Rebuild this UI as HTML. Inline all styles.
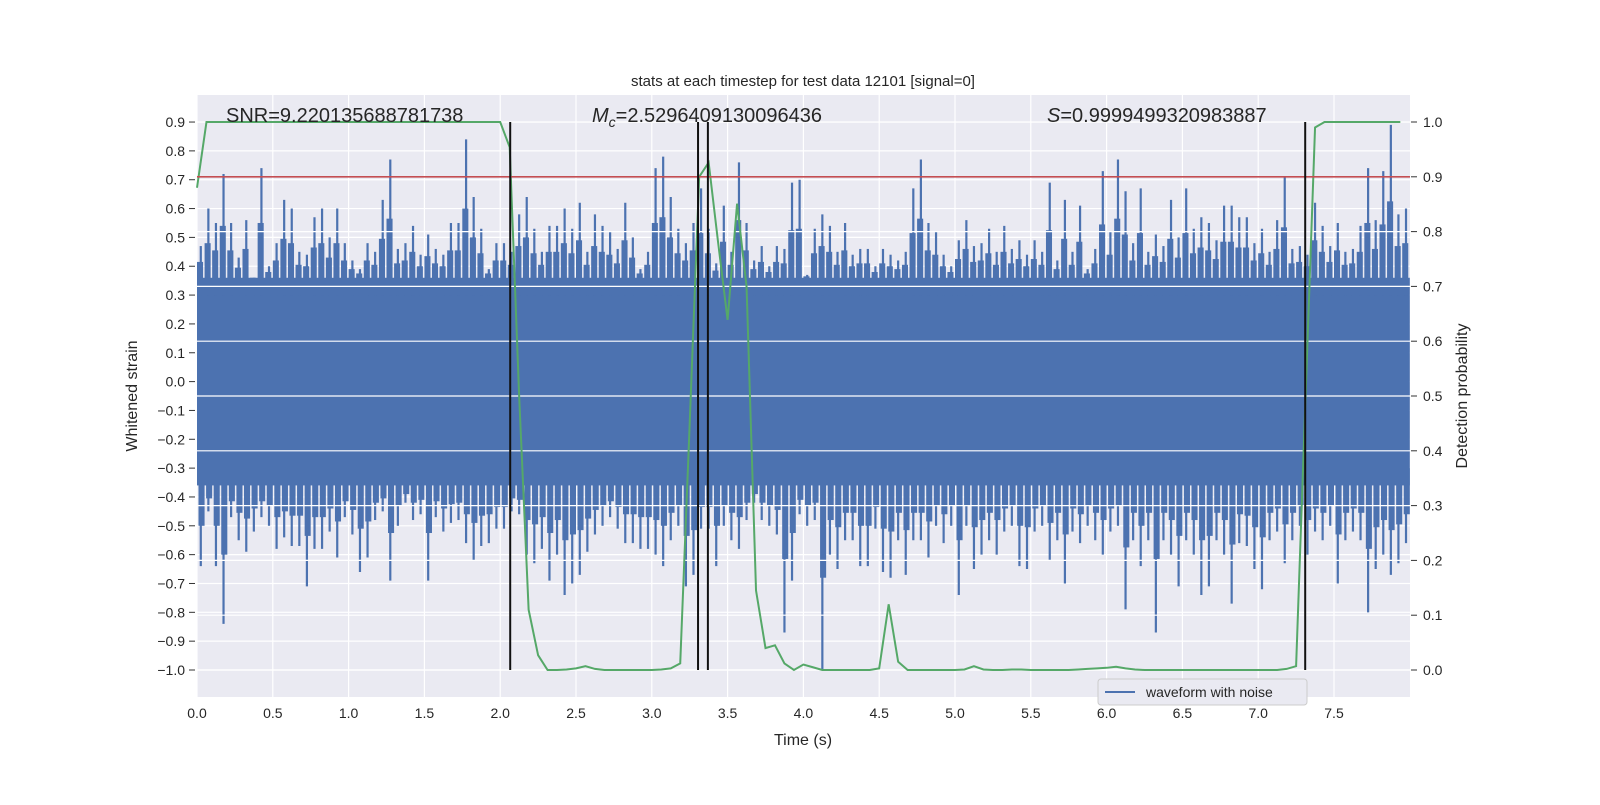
<!DOCTYPE html>
<html><head><meta charset="utf-8"><style>
html,body{margin:0;padding:0;background:#fff;}
svg text{font-family:"Liberation Sans","DejaVu Sans",sans-serif;fill:#262626;}
</style></head><body>
<svg id="chart" width="1600" height="800" viewBox="0 0 1600 800" xmlns="http://www.w3.org/2000/svg">
<rect x="197" y="95" width="1213" height="602" fill="#eaeaf2"/>
<g id="gridL"></g>
<g id="wave"></g>
<g id="gridR"></g>
<g id="marks"></g>
<g id="axes"></g>
<text x="803" y="86" font-size="15" text-anchor="middle">stats at each timestep for test data 12101 [signal=0]</text>
<text x="226" y="122" font-size="20">SNR=9.220135688781738</text>
<text x="592" y="122" font-size="20"><tspan font-style="italic">M</tspan><tspan font-style="italic" font-size="14" dy="5">c</tspan><tspan dy="-5">=2.5296409130096436</tspan></text>
<text x="1047" y="122" font-size="20"><tspan font-style="italic">S</tspan>=0.9999499320983887</text>
<text x="803" y="745" font-size="16" text-anchor="middle">Time (s)</text>
<text x="137" y="396" font-size="16" text-anchor="middle" transform="rotate(-90 137 396)">Whitened strain</text>
<text x="1467" y="396" font-size="16" text-anchor="middle" transform="rotate(-90 1467 396)">Detection probability</text>
<g>
<rect x="1098" y="679" width="209" height="26" rx="3" fill="#eaeaf2" stroke="#cccccc"/>
<line x1="1105" y1="692" x2="1135" y2="692" stroke="#4c72b0" stroke-width="2"/>
<text x="1146" y="697" font-size="14">waveform with noise</text>
</g>
</svg>
<script>
const xTicks=[0.0,0.5,1.0,1.5,2.0,2.5,3.0,3.5,4.0,4.5,5.0,5.5,6.0,6.5,7.0,7.5];
const yTicksL=[0.9,0.8,0.7,0.6,0.5,0.4,0.3,0.2,0.1,0.0,-0.1,-0.2,-0.3,-0.4,-0.5,-0.6,-0.7,-0.8,-0.9,-1.0];
const yTicksR=[1.0,0.9,0.8,0.7,0.6,0.5,0.4,0.3,0.2,0.1,0.0];
const binStep=0.05;
const upperPeaks=[.47,.60,.55,.72,.55,.43,.56,.36,.74,.40,.48,.63,.60,.45,.44,.57,.60,.50,.60,.48,
.42,.39,.48,.45,.63,.77,.46,.48,.54,.44,.51,.46,.44,.55,.55,.84,.64,.53,.39,.48,
.48,.45,.58,.64,.53,.45,.54,.54,.60,.53,.62,.45,.58,.54,.52,.46,.62,.50,.39,.45,
.74,.78,.64,.53,.48,.55,.67,.53,.41,.61,.45,.76,.55,.42,.47,.40,.47,.46,.69,.70,
.37,.53,.58,.54,.45,.55,.44,.46,.46,.40,.46,.44,.42,.45,.67,.77,.55,.52,.44,.40,
.49,.56,.47,.48,.53,.45,.54,.46,.49,.44,.49,.45,.69,.42,.63,.45,.61,.39,.46,.73,
.52,.77,.66,.48,.67,.45,.51,.47,.63,.50,.67,.53,.57,.55,.49,.61,.61,.57,.57,.48,
.53,.45,.56,.71,.46,.47,.44,.62,.54,.47,.55,.45,.46,.54,.74,.56,.73,.89,.58,.60];
const lowerPeaks=[-.64,-.45,-.64,-.84,-.47,-.55,-.59,-.52,-.47,-.50,-.58,-.54,-.57,-.57,-.71,-.58,-.58,-.52,-.61,-.47,
-.53,-.66,-.61,-.48,-.45,-.69,-.50,-.42,-.48,-.46,-.69,-.47,-.52,-.49,-.48,-.56,-.62,-.57,-.56,-.51,
-.51,-.45,-.46,-.60,-.63,-.58,-.69,-.60,-.74,-.70,-.67,-.59,-.53,-.50,-.47,-.51,-.56,-.56,-.58,-.58,
-.60,-.64,-.55,-.50,-.71,-.67,-.51,-.51,-.64,-.50,-.55,-.58,-.48,-.42,-.48,-.50,-.53,-.87,-.69,-.46,
-.50,-.48,-1.0,-.60,-.65,-.55,-.55,-.64,-.64,-.51,-.66,-.68,-.55,-.67,-.55,-.55,-.61,-.50,-.56,-.50,
-.74,-.50,-.65,-.60,-.55,-.60,-.52,-.50,-.64,-.65,-.52,-.50,-.62,-.55,-.70,-.52,-.56,-.50,-.55,-.60,
-.52,-.50,-.79,-.55,-.64,-.55,-.87,-.55,-.60,-.71,-.55,-.60,-.74,-.71,-.55,-.60,-.77,-.56,-.57,-.65,
-.72,-.55,-.52,-.63,-.55,-.50,-.60,-.52,-.55,-.50,-.70,-.55,-.52,-.55,-.80,-.65,-.60,-.67,-.63,-.56];
const probStep=0.0625;
const probs=[.88,1,1,1,1,1,1,1,1,1,1,1,1,1,1,1,1,1,1,1,1,1,1,1,1,1,1,1,1,1,1,1,1,
.954,.5,.11,.027,0,0,.001,.003,.007,.002,0,0,0,0,0,0,.001,.003,.012,.45,.9,.926,.78,.639,.851,.7,.145,
.04,.045,.012,0,.01,.005,0,0,0,0,0,0,.003,.12,.015,0,0,0,0,0,0,.001,.007,.001,
0,0,.001,.001,0,0,0,0,0,.001,.002,.003,.004,.006,.003,.001,
0,0,0,0,0,0,0,0,0,0,0,0,0,0,0,.002,.007,.5,.99,1,1,1,1,1,1,1,1,1];
const threshold=0.9;
const eventTimes=[2.066,3.305,3.37,7.31];

const NS="http://www.w3.org/2000/svg";
const X=t=>197+t*151.6, YL=v=>381.6-v*288.4, YR=p=>670-548*p;
function mk(tag,attrs,parent){const e=document.createElementNS(NS,tag);for(const k in attrs)e.setAttribute(k,attrs[k]);parent.appendChild(e);return e;}
const gL=document.getElementById('gridL'),gR=document.getElementById('gridR'),wave=document.getElementById('wave'),marks=document.getElementById('marks'),axes=document.getElementById('axes');
xTicks.forEach(t=>{
  const l=mk('line',{x1:X(t),x2:X(t),y1:95,y2:697,stroke:'#fff','stroke-width':1.2},gL);
  
  
  const tx=mk('text',{x:X(t),y:718,'font-size':14,'text-anchor':'middle'},axes);
  tx.textContent=t.toFixed(1);
  
  
});
yTicksL.forEach(v=>{
  const l=mk('line',{x1:197,x2:1410,y1:YL(v),y2:YL(v),stroke:'#fff','stroke-width':1.2},gL);
  
  
  const tk=mk('line',{x1:189,x2:195,y1:YL(v),y2:YL(v),stroke:'#333','stroke-width':1},axes);
  
  
  const tx=mk('text',{x:185,y:YL(v)+5,'font-size':14,'text-anchor':'end'},axes);
  tx.textContent=(v<0?'\u2212'+Math.abs(v).toFixed(1):v.toFixed(1));
  
  
});
const core=mk('rect',{x:X(0),y:YL(0.36),width:X(8)-X(0),height:YL(-0.36)-YL(0.36),fill:'#4c72b0'},wave);


const cw=binStep*151.6;
upperPeaks.forEach((v,i)=>{
  const xc=X(i*binStep+binStep/2);
  const s=mk('line',{x1:xc,x2:xc,y1:YL(0.3),y2:YL(v),stroke:'#4c72b0','stroke-width':2.2},wave);
  
  
  const m=mk('rect',{x:xc-cw*0.5,y:YL((v+0.36)/2),width:cw*0.8,height:YL(0.3)-YL((v+0.36)/2),fill:'#4c72b0'},wave);
  
  
});
lowerPeaks.forEach((v,i)=>{
  const xc=X(i*binStep+binStep/2);
  const s=mk('line',{x1:xc,x2:xc,y1:YL(-0.3),y2:YL(v),stroke:'#4c72b0','stroke-width':2.2},wave);
  
  
  const m=mk('rect',{x:xc-cw*0.3,y:YL(-0.3),width:cw*0.8,height:YL((v-0.36)/2)-YL(-0.3),fill:'#4c72b0'},wave);
  
  
});
yTicksR.forEach(p=>{
  const l=mk('line',{x1:197,x2:1410,y1:YR(p),y2:YR(p),stroke:'#fff','stroke-width':1.2},gR);
  
  
  const tk=mk('line',{x1:1411,x2:1417,y1:YR(p),y2:YR(p),stroke:'#333','stroke-width':1},axes);
  
  
  const tx=mk('text',{x:1423,y:YR(p)+5,'font-size':14},axes);
  tx.textContent=p.toFixed(1);
  
  
});
const pl=mk('polyline',{points:probs.map((p,i)=>X(i*probStep)+','+YR(p)).join(' '),fill:'none',stroke:'#55a868','stroke-width':2},marks);


const th=mk('line',{x1:197,x2:1410,y1:YR(threshold),y2:YR(threshold),stroke:'#c44e52','stroke-width':1.6},marks);


eventTimes.forEach(t=>{
  const v=mk('line',{x1:X(t),x2:X(t),y1:YR(1),y2:YR(0),stroke:'#111','stroke-width':2},marks);
  
  
});
</script>
</body></html>
